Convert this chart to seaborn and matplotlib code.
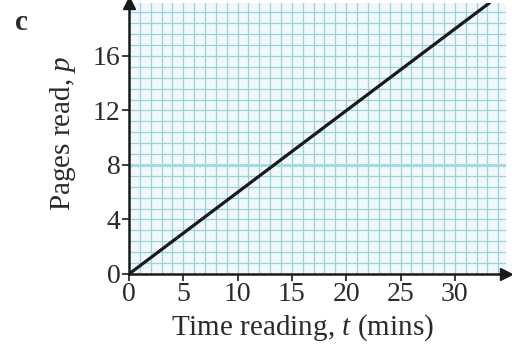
import matplotlib
matplotlib.use("Agg")
import matplotlib.pyplot as plt
import seaborn as sns
import pandas as pd
from matplotlib.ticker import MultipleLocator

# data
time_mins = [0, 33.2]
pages_read = [0, 19.9]
x_ticks = [0, 5, 10, 15, 20, 25, 30]
y_ticks = [0, 4, 8, 12, 16]

df = pd.DataFrame({"t": time_mins, "p": pages_read})

sns.set_theme(style="ticks")
plt.rcParams['font.family'] = ['Liberation Serif', 'DejaVu Serif']
plt.rcParams['mathtext.fontset'] = 'custom'
plt.rcParams['mathtext.rm'] = 'Liberation Serif'
plt.rcParams['mathtext.it'] = 'Liberation Serif:italic'

txt = '#2a2a2a'

fig = plt.figure(figsize=(5.12, 3.54), dpi=100)
ax = fig.add_axes([0.252, 0.226, 0.736, 0.766])
ax.set_facecolor('#eff9fc')

ax.set_xlim(0, 34.7)
ax.set_ylim(0, 19.9)

# graph paper grid
ax.xaxis.set_major_locator(MultipleLocator(5))
ax.yaxis.set_major_locator(MultipleLocator(4))
ax.xaxis.set_minor_locator(MultipleLocator(1))
ax.yaxis.set_minor_locator(MultipleLocator(0.8))
ax.grid(which='both', color='#9dcfdc', linewidth=0.9)
ax.axhline(8, color='#a6d8e6', linewidth=2.2, zorder=1)

sns.lineplot(data=df, x='t', y='p', ax=ax, color='#1a1a1a', linewidth=2.3, zorder=5)

ax.set_xticks(x_ticks)
ax.set_yticks(y_ticks)
ax.tick_params(which='major', direction='out', length=5, width=1.2, color='#1a1a1a',
               labelsize=20, pad=1, labelcolor=txt)
ax.tick_params(which='minor', length=0)

for s in ['top', 'right']:
    ax.spines[s].set_visible(False)
for s in ['left', 'bottom']:
    ax.spines[s].set_linewidth(1.8)
    ax.spines[s].set_color('#1a1a1a')
    ax.spines[s].set_zorder(6)

# arrow heads on the axes
ax.plot(1, 0, '>', color='#1a1a1a', markersize=9, transform=ax.transAxes, clip_on=False, zorder=7)
ax.plot(0, 1, '^', color='#1a1a1a', markersize=9, transform=ax.transAxes, clip_on=False, zorder=7)

ax.set_xlabel('Time reading, $\\mathit{t}$ (mins)', fontsize=21, color=txt)
ax.set_ylabel('Pages read, $\\mathit{p}$', fontsize=21, color=txt)
ax.xaxis.set_label_coords(0.46, -0.14)
ax.yaxis.set_label_coords(-0.135, 0.52)

fig.text(0.03, 0.915, 'c', fontsize=21, fontweight='bold', color=txt)

fig.savefig('out.png', dpi=100)
